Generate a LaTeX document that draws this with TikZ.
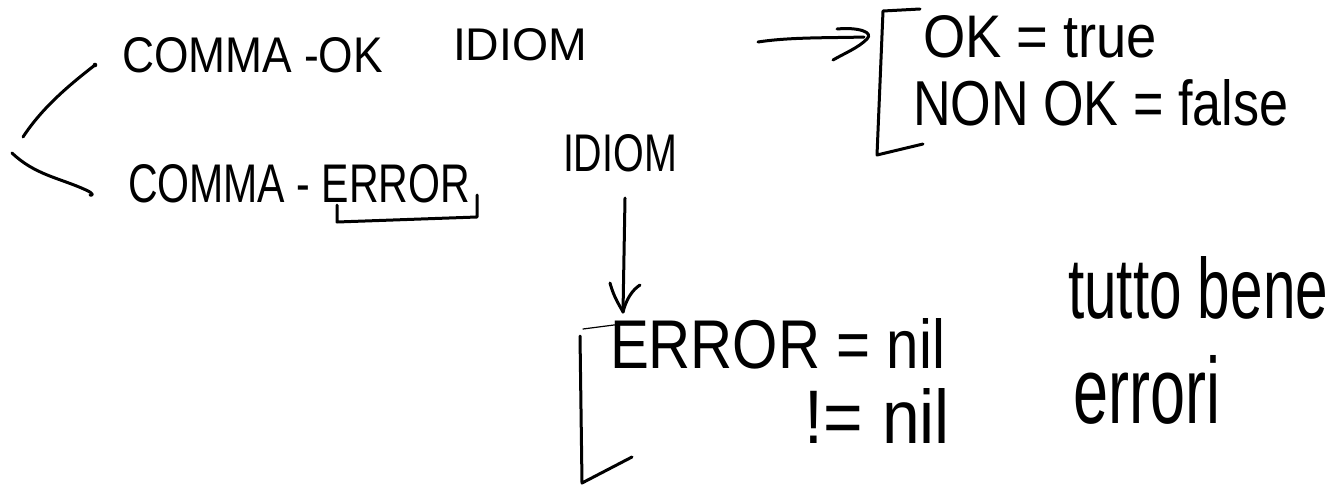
\documentclass[tikz,border=0pt]{standalone}
\usepackage{fontspec}
\setmainfont{Liberation Sans}
\newcommand{\hw}[3]{\resizebox{#1pt}{#2pt}{#3}}
\begin{document}
\begin{tikzpicture}[x=1pt,y=-1pt,
  ink/.style={line width=3pt,line cap=round,line join=round,black},
  thinink/.style={line width=1.2pt,line cap=round,black},
  txt/.style={inner sep=0pt,outer sep=0pt,anchor=base west},
  txtr/.style={inner sep=0pt,outer sep=0pt,anchor=base east}]
\fill[white] (0,0) rectangle (1335,488);
\useasboundingbox (0,0) rectangle (1335,488);
% texts
\node[txt] (okid) at (122,72) {\hw{261}{35}{COMMA -OK}};
\node[txt] (idiom1) at (453,60) {\hw{134}{32}{IDIOM}};
\node[txt] (oktrue) at (923,57) {\hw{234}{42}{OK = true}};
\node[txt] (nonok) at (913,125) {\hw{375}{46}{NON OK = false}};
\node[txt] (errid) at (128,202) {\hw{342}{38}{COMMA - ERROR}};
\node[txt] (idiom2) at (563,171) {\hw{114}{37}{IDIOM}};
\node[txt] (errnil) at (610,368) {\hw{335}{50}{ERROR = nil}};
\node[txtr] (notnil) at (950,443) {\hw{145}{55}{!= nil}};
\node[txt] (bene) at (1068,318) {\hw{260}{62}{tutto bene}};
\node[txt] (errori) at (1073,423) {\hw{147}{68}{errori}};
% brace on the left
\coordinate (b1) at (95,65);
\coordinate (b2) at (23,137);
\coordinate (b3) at (12,153);
\coordinate (b4) at (90,195);
\draw[ink] (b1) .. controls (68,86) and (42,108) .. (b2);
\fill (b1) circle (2.3pt);
\draw[ink] (b3) .. controls (35,175) and (60,178) .. (86,190) .. controls (93,193) and (94,196) .. (b4);
% arrow to the first bracket
\coordinate (a1) at (758,42);
\coordinate (a2) at (864,37);
\coordinate (ah1) at (837,29);
\coordinate (ah2) at (833,60);
\draw[ink] (a1) .. controls (790,37) and (830,38) .. (a2);
\draw[ink] (ah1) .. controls (858,27) and (874,32) .. (867,39) .. controls (858,48) and (845,53) .. (ah2);
% first bracket
\coordinate (k1) at (920,9);
\coordinate (k2) at (883,11);
\coordinate (k3) at (877,155);
\coordinate (k4) at (923,144);
\draw[ink] (k1) -- (k2) -- (k3) -- (k4);
% underline under ERROR
\coordinate (u1) at (337,205);
\coordinate (u2) at (337,222);
\coordinate (u3) at (477,217);
\coordinate (u4) at (477,195);
\draw[ink] (u1) -- (u2) -- (u3) -- (u4);
% down arrow
\coordinate (d1) at (625,198);
\coordinate (d2) at (623,312);
\coordinate (dh1) at (610,283);
\coordinate (dh2) at (640,285);
\draw[ink] (d1) -- (d2);
\draw[ink] (dh1) .. controls (614,298) and (620,306) .. (d2) .. controls (626,300) and (632,290) .. (dh2);
% second bracket
\coordinate (m0) at (583,329);
\coordinate (m1) at (637,322);
\coordinate (m2) at (580,336);
\coordinate (m3) at (582,483);
\coordinate (m4) at (632,457);
\draw[thinink] (m0) -- (m1);
\draw[ink] (m2) -- (m3) -- (m4);
\end{tikzpicture}
\end{document}
